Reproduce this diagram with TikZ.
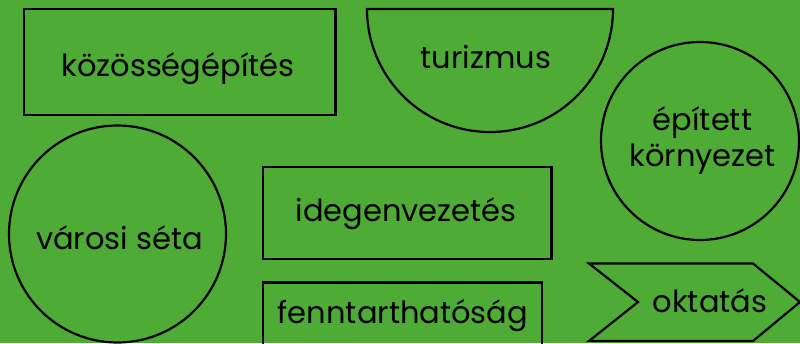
\documentclass[tikz,border=0pt]{standalone}
\usepackage{fontspec}
\setmainfont{Poppins}
\definecolor{bg}{RGB}{78,172,54}
\begin{document}
\begin{tikzpicture}[x=1pt,y=-1pt,
  lbl/.style={anchor=base,inner sep=0pt,font=\fontsize{30.5}{34}\selectfont},
  outline/.style={draw=black,line width=2.2pt}]
\fill[bg] (0,0) rectangle (800,343);
\useasboundingbox (0,0) rectangle (800,343);
% shapes
\draw[outline] (24,9) rectangle (335.5,115);
\draw[outline] (367,9) -- (613,9) arc[start angle=0,end angle=180,radius=123] -- cycle;
\draw[outline] (700,141) circle[radius=99];
\draw[outline] (117.5,234) circle[radius=108.5];
\draw[outline] (263,167) rectangle (551.5,259);
\draw[outline] (263,282.5) rectangle (542,360);
\draw[outline,line join=miter] (589,263.5) -- (753,263.5) -- (800,302) -- (753,341) -- (589,341) -- (638,302) -- cycle;
% labels
\node[lbl] (a) at (178,76.5) {közösségépítés};
\node[lbl] (b) at (486,68.5) {turizmus};
\node[lbl] (c1) at (702.5,130) {épített};
\node[lbl] (c2) at (702.5,166.5) {környezet};
\node[lbl] (d) at (119.5,249.5) {városi séta};
\node[lbl] (e) at (406,221.5) {idegenvezetés};
\node[lbl] (f) at (403,323.5) {fenntarthatóság};
\node[lbl] (g) at (710,312.5) {oktatás};
\end{tikzpicture}
\end{document}
